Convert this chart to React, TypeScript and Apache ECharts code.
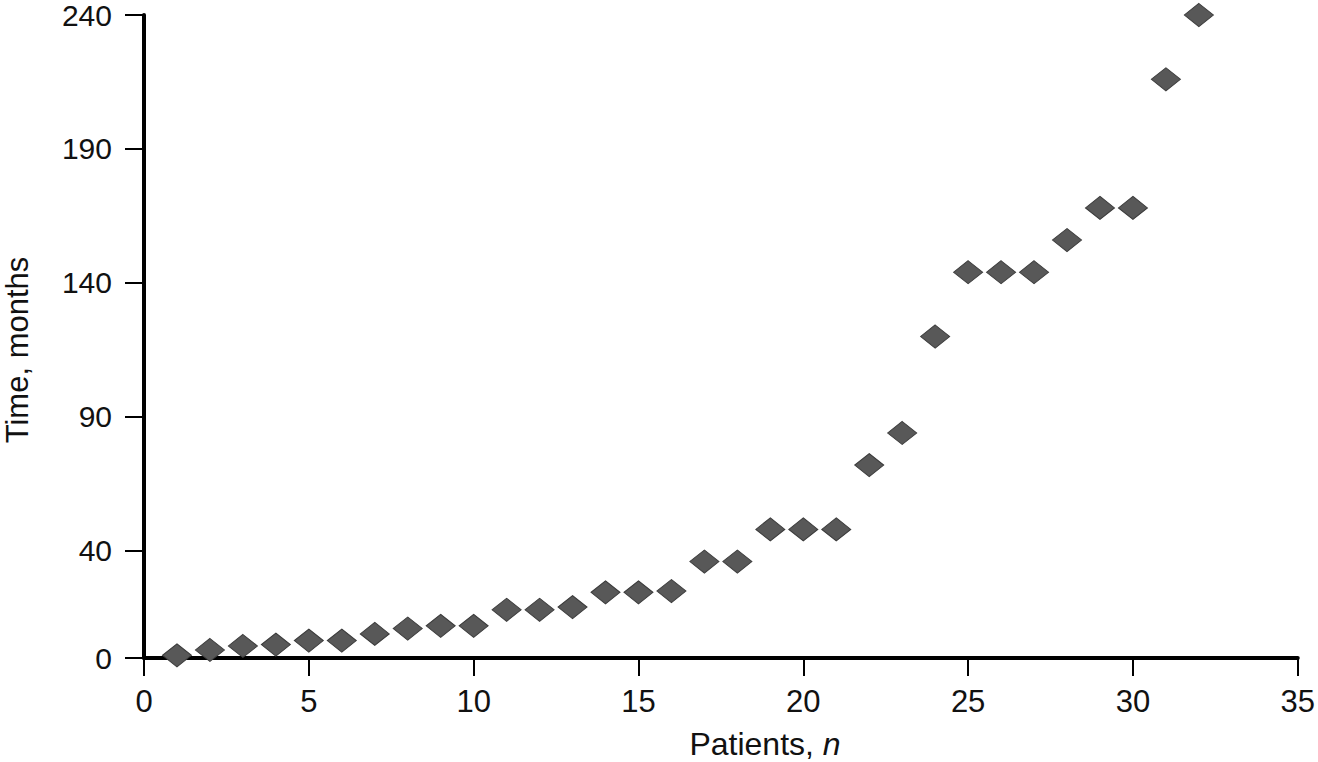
import React, { useEffect, useRef } from "react";
import * as echarts from "echarts";

const patients = [1, 2, 3, 4, 5, 6, 7, 8, 9, 10, 11, 12, 13, 14, 15, 16, 17, 18, 19, 20, 21, 22, 23, 24, 25, 26, 27, 28, 29, 30, 31, 32];
const months = [1, 3, 4.5, 5, 6.5, 6.5, 9, 11, 12, 12, 18, 18, 19, 24.5, 24.5, 25, 36, 36, 48, 48, 48, 72, 84, 120, 144, 144, 144, 156, 168, 168, 216, 240];
const yTicks = [0, 40, 90, 140, 190, 240];

export default function App() {
  const ref = useRef<HTMLDivElement>(null);
  useEffect(() => {
    if (!ref.current) return;
    const chart = echarts.init(ref.current, null, { renderer: "svg" });
    const font = "Liberation Sans, Arial, sans-serif";
    chart.setOption({
      animation: false,
      backgroundColor: "#ffffff",
      grid: { left: 144, right: 9, top: 15, bottom: 104, containLabel: false },
      xAxis: {
        type: "value",
        min: 0,
        max: 35,
        interval: 5,
        axisLine: { show: true, lineStyle: { color: "#000", width: 4 } },
        axisTick: { show: true, length: 18, lineStyle: { color: "#000", width: 2 } },
        axisLabel: { margin: 28, fontSize: 31, color: "#111", fontFamily: font },
        splitLine: { show: false },
      },
      yAxis: {
        type: "value",
        min: 0,
        max: 240,
        axisLine: { show: true, lineStyle: { color: "#000", width: 4 } },
        axisTick: { show: true, length: 19, customValues: yTicks, lineStyle: { color: "#000", width: 2 } },
        axisLabel: { margin: 32, fontSize: 30, lineHeight: 24, color: "#111", fontFamily: font, customValues: yTicks },
        splitLine: { show: false },
      },
      graphic: [
        {
          type: "text",
          x: 765,
          y: 744,
          style: {
            text: "{a|Patients, }{b|n}",
            align: "center",
            verticalAlign: "middle",
            rich: {
              a: { fontSize: 32, fill: "#111", fontFamily: font },
              b: { fontSize: 32, fill: "#111", fontFamily: font, fontStyle: "italic" },
            },
          },
        },
        {
          type: "text",
          x: 17,
          y: 350,
          rotation: Math.PI / 2,
          style: {
            text: "Time, months",
            fontSize: 31,
            lineHeight: 28,
            fill: "#111",
            fontFamily: font,
            verticalAlign: "middle",
            align: "center",
          },
        },
      ],
      series: [
        {
          type: "scatter",
          data: patients.map((p, i) => [p, months[i]]),
          symbol: "diamond",
          symbolSize: [29, 23],
          itemStyle: { color: "#585858", borderColor: "#3c3c3c", borderWidth: 1, opacity: 1 },
          z: 1,
        },
      ],
    });
    return () => chart.dispose();
  }, []);
  return <div ref={ref} style={{ position: "fixed", left: 0, top: 0, width: 1318, height: 762 }} />;
}
